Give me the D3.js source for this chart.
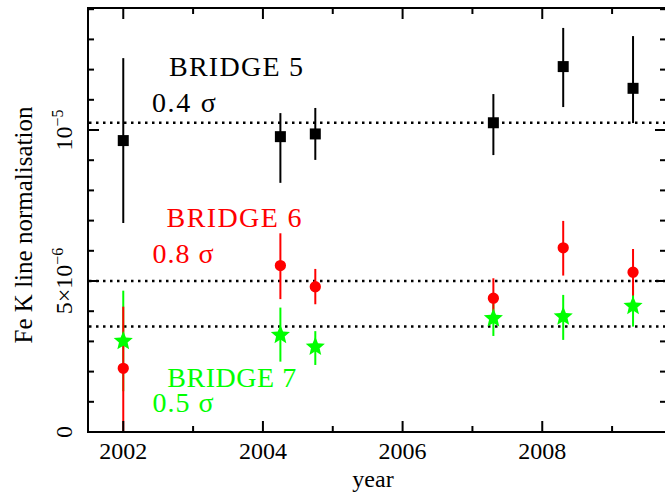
<!DOCTYPE html>
<html lang="en">
<head>
    <meta charset="UTF-8">
    <title>Fe K line normalisation</title>
    <script type="text/javascript" src="https://cdnjs.cloudflare.com/ajax/libs/d3/7.8.5/d3.min.js"></script>
    <style>
        body {
            margin: 0;
            background: #fff;
        }
        svg text {
            font-family: "Liberation Serif", "Times New Roman", serif;
        }
        .frame line {
            stroke: #000;
            stroke-width: 2px;
        }
        .mean {
            stroke: #000;
            stroke-width: 2.5px;
            stroke-dasharray: 2.5 4.5;
        }
        .err {
            stroke-width: 2px;
        }
    </style>
</head>
<body>
<script type="text/javascript">
    var w = 665;
    var h = 493;
    var padL = 88, padR = 666, padT = 8, padB = 432;

    // observation epochs (year)
    var years = [2002.0, 2004.25, 2004.75, 2007.3, 2008.3, 2009.3];

    // BRIDGE 5
    var b5    = [9.65e-6, 9.78e-6, 9.87e-6, 10.24e-6, 12.10e-6, 11.38e-6];
    var b5Lo  = [6.92e-6, 8.25e-6, 9.01e-6, 9.17e-6, 10.76e-6, 10.23e-6];
    var b5Hi  = [12.38e-6, 10.56e-6, 10.73e-6, 11.19e-6, 13.38e-6, 13.11e-6];

    // BRIDGE 6
    var b6    = [2.11e-6, 5.51e-6, 4.81e-6, 4.43e-6, 6.10e-6, 5.29e-6];
    var b6Lo  = [0, 4.40e-6, 4.23e-6, 3.76e-6, 5.18e-6, 4.52e-6];
    var b6Hi  = [4.15e-6, 6.58e-6, 5.40e-6, 5.09e-6, 6.99e-6, 6.06e-6];

    // BRIDGE 7
    var b7    = [3.01e-6, 3.21e-6, 2.82e-6, 3.76e-6, 3.82e-6, 4.17e-6];
    var b7Lo  = [1.35e-6, 2.33e-6, 2.22e-6, 3.18e-6, 3.05e-6, 3.49e-6];
    var b7Hi  = [4.68e-6, 4.12e-6, 3.34e-6, 4.34e-6, 4.54e-6, 4.85e-6];

    // mean level of each bridge (dotted lines)
    var means = [10.24e-6, 5.0e-6, 3.49e-6];

    var names  = ["BRIDGE 5", "BRIDGE 6", "BRIDGE 7"];
    var sigmas = ["0.4 \u03c3", "0.8 \u03c3", "0.5 \u03c3"];
    var colors = ["#000000", "#ff0000", "#00ff00"];

    var xMajor = [2002, 2004, 2006, 2008];
    var xMinor = [2003, 2005, 2007, 2009];
    var yMajor = [0, 5e-6, 1e-5];
    var yLabels = [["0", ""], ["5\u00d710", "\u22126"], ["10", "\u22125"]];
    var yMinor = [1e-6, 2e-6, 3e-6, 4e-6, 6e-6, 7e-6, 8e-6, 9e-6, 11e-6, 12e-6, 13e-6, 14e-6];

    var serif = "'Liberation Serif', 'Times New Roman', serif";

    var xScale = d3.scaleLinear()
        .domain([2001.495, 2009.772])
        .range([padL, padR]);

    var yScale = d3.scaleLinear()
        .domain([0, 1.404e-5])
        .range([padB, padT]);

    var svg = d3.select("body")
        .append("svg")
        .attr("width", w)
        .attr("height", h)
        .attr("font-family", serif);

    svg.append("clipPath")
        .attr("id", "plot")
        .append("rect")
        .attr("x", padL)
        .attr("y", padT)
        .attr("width", padR - padL)
        .attr("height", padB - padT);

    // dotted mean levels
    svg.append("g")
        .attr("clip-path", "url(#plot)")
        .selectAll("line")
        .data(means)
        .enter()
        .append("line")
        .attr("class", "mean")
        .attr("x1", padL + 1)
        .attr("x2", padR)
        .attr("y1", function (d) { return yScale(d); })
        .attr("y2", function (d) { return yScale(d); });

    var marks = svg.append("g").attr("clip-path", "url(#plot)");

    function errorBars(vLo, vHi, color) {
        marks.append("g")
            .selectAll("line")
            .data(years)
            .enter()
            .append("line")
            .attr("class", "err")
            .attr("stroke", color)
            .attr("x1", function (d) { return xScale(d); })
            .attr("x2", function (d) { return xScale(d); })
            .attr("y1", function (d, i) { return yScale(vLo[i]); })
            .attr("y2", function (d, i) { return yScale(vHi[i]); });
    }

    // five-pointed star a bit fatter than d3.symbolStar
    var fatStar = {
        draw: function (context, size) {
            var r = Math.sqrt(size * 0.75);
            var ri = r * 0.45;
            for (var k = 0; k < 10; k++) {
                var a = -Math.PI / 2 + k * Math.PI / 5;
                var rr = k % 2 ? ri : r;
                if (k === 0) context.moveTo(rr * Math.cos(a), rr * Math.sin(a));
                else context.lineTo(rr * Math.cos(a), rr * Math.sin(a));
            }
            context.closePath();
        }
    };

    function points(v, symbol, size, color) {
        marks.append("g")
            .selectAll("path")
            .data(years)
            .enter()
            .append("path")
            .attr("d", d3.symbol().type(symbol).size(size))
            .attr("fill", color)
            .attr("transform", function (d, i) {
                return "translate(" + xScale(d) + "," + yScale(v[i]) + ")";
            });
    }

    errorBars(b5Lo, b5Hi, colors[0]);
    points(b5, d3.symbolSquare, 121, colors[0]);
    errorBars(b7Lo, b7Hi, colors[2]);
    errorBars(b6Lo, b6Hi, colors[1]);
    points(b6, d3.symbolCircle, 100, colors[1]);
    points(b7, fatStar, 135, colors[2]);

    // frame with inward ticks
    var frame = svg.append("g").attr("class", "frame");
    frame.append("line").attr("x1", padL).attr("x2", padR).attr("y1", padT).attr("y2", padT);
    frame.append("line").attr("x1", padL).attr("x2", padR).attr("y1", padB).attr("y2", padB);
    frame.append("line").attr("x1", padL).attr("x2", padL).attr("y1", padT - 1).attr("y2", padB + 1);
    frame.append("line").attr("x1", padR).attr("x2", padR).attr("y1", padT - 1).attr("y2", padB + 1);

    function xTicks(vals, len) {
        vals.forEach(function (d) {
            frame.append("line").attr("x1", xScale(d)).attr("x2", xScale(d))
                .attr("y1", padB).attr("y2", padB - len);
            frame.append("line").attr("x1", xScale(d)).attr("x2", xScale(d))
                .attr("y1", padT).attr("y2", padT + len);
        });
    }
    function yTicks(vals, len) {
        vals.forEach(function (d) {
            frame.append("line").attr("y1", yScale(d)).attr("y2", yScale(d))
                .attr("x1", padL).attr("x2", padL + len);
            frame.append("line").attr("y1", yScale(d)).attr("y2", yScale(d))
                .attr("x1", padR).attr("x2", padR - len);
        });
    }
    xTicks(xMajor, 11);
    xTicks(xMinor, 6);
    yTicks(yMajor, 11);
    yTicks(yMinor, 6);

    // x tick labels
    svg.append("g")
        .selectAll("text")
        .data(xMajor)
        .enter()
        .append("text")
        .attr("x", function (d) { return xScale(d); })
        .attr("y", 459)
        .attr("text-anchor", "middle")
        .attr("font-size", "24px")
        .text(function (d) { return d; });

    // y tick labels, rotated
    var yl = svg.append("g")
        .selectAll("text")
        .data(yMajor)
        .enter()
        .append("text")
        .attr("transform", function (d) {
            return "translate(72," + yScale(d) + ") rotate(-90)";
        })
        .attr("text-anchor", "middle")
        .attr("font-size", "24px");
    yl.append("tspan").text(function (d, i) { return yLabels[i][0]; });
    yl.append("tspan")
        .attr("font-size", "16px")
        .attr("dy", -9)
        .text(function (d, i) { return yLabels[i][1]; });

    // axis titles
    svg.append("text")
        .attr("x", 373)
        .attr("y", 487)
        .attr("text-anchor", "middle")
        .attr("font-size", "24px")
        .text("year");

    svg.append("text")
        .attr("transform", "translate(32,225) rotate(-90)")
        .attr("text-anchor", "middle")
        .attr("font-size", "25px")
        .text("Fe K line normalisation");

    // bridge annotations (name + significance)
    var nameAt = [[2002.655, 11.79e-6, 134], [2002.62, 6.79e-6, 135], [2002.63, 1.49e-6, 129]];
    var sigAt  = [[2002.41, 10.6e-6, 64], [2002.42, 5.6e-6, 61], [2002.42, 0.66e-6, 61]];

    names.forEach(function (n, i) {
        svg.append("text")
            .attr("x", xScale(nameAt[i][0]))
            .attr("y", yScale(nameAt[i][1]))
            .attr("font-size", "28px")
            .attr("fill", colors[i])
            .attr("textLength", nameAt[i][2])
            .attr("lengthAdjust", "spacing")
            .text(n);
        svg.append("text")
            .attr("x", xScale(sigAt[i][0]))
            .attr("y", yScale(sigAt[i][1]))
            .attr("font-size", "28px")
            .attr("fill", colors[i])
            .attr("textLength", sigAt[i][2])
            .attr("lengthAdjust", "spacing")
            .text(sigmas[i]);
    });
</script>
</body>
</html>
